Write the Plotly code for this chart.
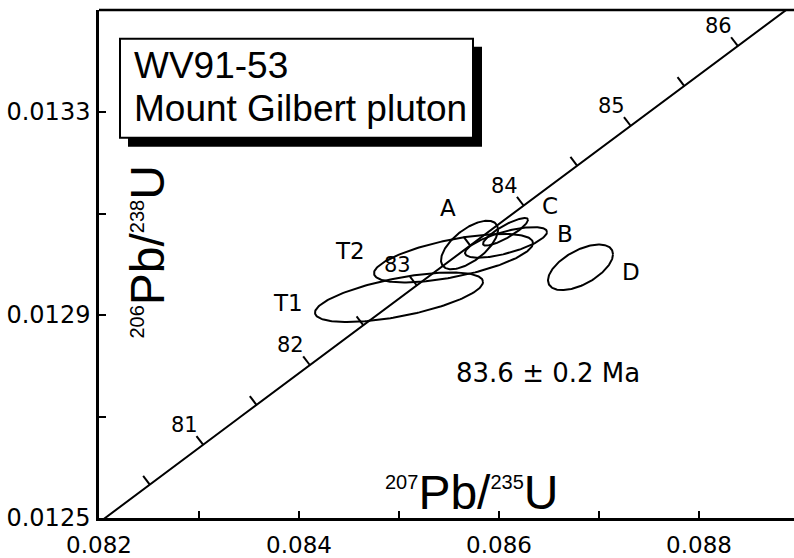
import numpy as np
import plotly.graph_objects as go

# decay constants (1/yr)
L238 = 1.55125e-10
L235 = 9.8485e-10

# --- analyses (2-sigma error ellipses) ---
names = ["T1", "T2", "A", "C", "B", "D"]
x207 = [0.08500, 0.085545, 0.085705, 0.086065, 0.08607, 0.086815]      # 207Pb/235U
y206 = [0.012935, 0.013012, 0.013038, 0.013064, 0.013043, 0.012994]    # 206Pb/238U
err_x = [0.00084, 0.000795, 0.000285, 0.000225, 0.00041, 0.000325]
err_y = [0.0000488, 0.0000478, 0.0000478, 0.0000273, 0.0000302, 0.0000449]
rho = [0.62, 0.62, 0.63, 0.86, 0.68, 0.57]

# label positions for the analyses
label_x = [0.08389, 0.08451, 0.08549, 0.08651, 0.08666, 0.08732]
label_y = [0.012923, 0.013027, 0.013111, 0.013115, 0.013060, 0.012984]

# concordia ages (Ma)
tick_ages = [80.5, 81, 81.5, 82, 82.5, 83, 83.5, 84, 84.5, 85, 85.5, 86]
label_ages = [81, 82, 83, 84, 85, 86]

age_text = "83.6 ± 0.2 Ma"
age_text_pos = (0.08649, 0.012785)

sample_lines = ["WV91-53", "Mount Gilbert pluton"]

W, H = 794, 558
ML, MR, MT, MB = 99, 0, 10, 35
plot_w = W - ML - MR
plot_h = H - MT - MB

x_range = [0.082, 0.082 + plot_w / 100000]
y_range = [0.0125, 0.013501]

kx = plot_w / (x_range[1] - x_range[0])
ky = plot_h / (y_range[1] - y_range[0])

FONT = "Liberation Sans, Arial, Helvetica, sans-serif"
WIDE = "DejaVu Sans, Verdana, sans-serif"


def conc(t_ma):
    t = np.asarray(t_ma) * 1e6
    return np.exp(L235 * t) - 1, np.exp(L238 * t) - 1


def px(xp):
    return (xp - ML) / plot_w


def py(yp):
    return (H - MB - yp) / plot_h


fig = go.Figure()

# concordia curve
tt = np.linspace(79.5, 86.8, 400)
cx, cy = conc(tt)
fig.add_trace(go.Scatter(x=cx, y=cy, mode="lines",
                         line=dict(color="black", width=2), hoverinfo="skip"))

# concordia ticks (perpendicular, toward upper-left)
tx_all, ty_all = [], []
for a in tick_ages:
    x0, y0 = conc(a)
    x1, y1 = conc(a + 0.01)
    ax_ = (x1 - x0) * kx
    ay_ = -(y1 - y0) * ky
    n = np.hypot(ax_, ay_)
    nx, ny = ay_ / n, -ax_ / n
    L = 11
    tx_all += [x0, x0 + L * nx / kx, None]
    ty_all += [y0, y0 - L * ny / ky, None]
fig.add_trace(go.Scatter(x=tx_all, y=ty_all, mode="lines",
                         line=dict(color="black", width=2), hoverinfo="skip"))

# error ellipses
th = np.linspace(0, 2 * np.pi, 200)
for cxe, cye, sx, sy, r in zip(x207, y206, err_x, err_y, rho):
    ex = cxe + sx * np.cos(th)
    ey = cye + sy * (r * np.cos(th) + np.sqrt(1 - r * r) * np.sin(th))
    fig.add_trace(go.Scatter(x=ex, y=ey, mode="lines",
                             line=dict(color="black", width=2), hoverinfo="skip"))

annotations = []
for a in label_ages:
    x0, y0 = conc(a)
    annotations.append(dict(x=float(x0), y=float(y0), text=str(a), showarrow=False,
                            xshift=-19, yshift=20, xanchor="center", yanchor="middle",
                            font=dict(size=21, color="black", family=WIDE)))

for nm, lx, ly in zip(names, label_x, label_y):
    annotations.append(dict(x=lx, y=ly, text=nm, showarrow=False, xanchor="center", yanchor="middle",
                            font=dict(size=23, color="black", family=WIDE)))

annotations.append(dict(x=age_text_pos[0], y=age_text_pos[1], text=age_text, showarrow=False,
                        xanchor="center", yanchor="middle",
                        font=dict(size=26, color="black", family=WIDE)))

# axis titles inside the plot
xt = "<sup><span style='font-size:20px'>207</span></sup>Pb/<sup><span style='font-size:20px'>235</span></sup>U"
yt = "<sup><span style='font-size:20px'>206</span></sup>Pb/<sup><span style='font-size:20px'>238</span></sup>U"
annotations.append(dict(xref="paper", yref="paper", x=px(472), y=py(497),
                        xanchor="center", yanchor="middle",
                        text=xt, showarrow=False,
                        font=dict(size=48, color="black", family=FONT)))
annotations.append(dict(xref="paper", yref="paper", x=px(148), y=py(255),
                        xanchor="center", yanchor="middle",
                        text=yt, showarrow=False, textangle=-90,
                        font=dict(size=48, color="black", family=FONT)))

# sample box text
annotations.append(dict(xref="paper", yref="paper", x=px(132), y=py(66), xanchor="left", yanchor="middle",
                        text=sample_lines[0], showarrow=False,
                        font=dict(size=37, color="black", family=FONT)))
annotations.append(dict(xref="paper", yref="paper", x=px(132), y=py(109), xanchor="left", yanchor="middle",
                        text=sample_lines[1], showarrow=False,
                        font=dict(size=37, color="black", family=FONT)))

shapes = [
    dict(type="rect", xref="paper", yref="paper", x0=px(128), x1=px(482), y0=py(148), y1=py(47),
         fillcolor="black", line=dict(width=0), layer="below"),
    dict(type="rect", xref="paper", yref="paper", x0=px(120), x1=px(473), y0=py(139), y1=py(39),
         fillcolor="white", line=dict(color="black", width=2), layer="below"),
    dict(type="line", xref="paper", yref="paper", x0=0, x1=1, y0=1, y1=1,
         line=dict(color="black", width=2.5)),
]

fig.update_layout(
    width=W, height=H,
    margin=dict(l=ML, r=MR, t=MT, b=MB, pad=0),
    paper_bgcolor="white", plot_bgcolor="white",
    showlegend=False,
    font=dict(family=WIDE, color="black", size=22),
    annotations=annotations,
    shapes=shapes,
    xaxis=dict(range=x_range, showgrid=False, zeroline=False, showline=True, mirror=False,
               linecolor="black", linewidth=2.5, ticks="inside", ticklen=7, tickwidth=2,
               tickcolor="black", tick0=0.082, dtick=0.002, tickformat=".3f",
               minor=dict(tick0=0.082, dtick=0.001, ticks="inside", ticklen=7, tickwidth=2, tickcolor="black"),
               tickfont=dict(size=23, family=WIDE), ticklabelstandoff=5),
    yaxis=dict(range=y_range, showgrid=False, zeroline=False, showline=True, mirror=False,
               linecolor="black", linewidth=2.5, ticks="inside", ticklen=7, tickwidth=2,
               tickcolor="black", tick0=0.0125, dtick=0.0004, tickformat=".4f",
               minor=dict(tick0=0.0125, dtick=0.0002, ticks="inside", ticklen=7, tickwidth=2, tickcolor="black"),
               tickfont=dict(size=24, family=WIDE), ticklabelstandoff=1),
)

fig.write_html("out.html", config={"displayModeBar": False},
               post_script=("document.body.style.margin='0px';document.body.style.overflow='hidden';"
                            "document.documentElement.style.overflow='hidden';"))
